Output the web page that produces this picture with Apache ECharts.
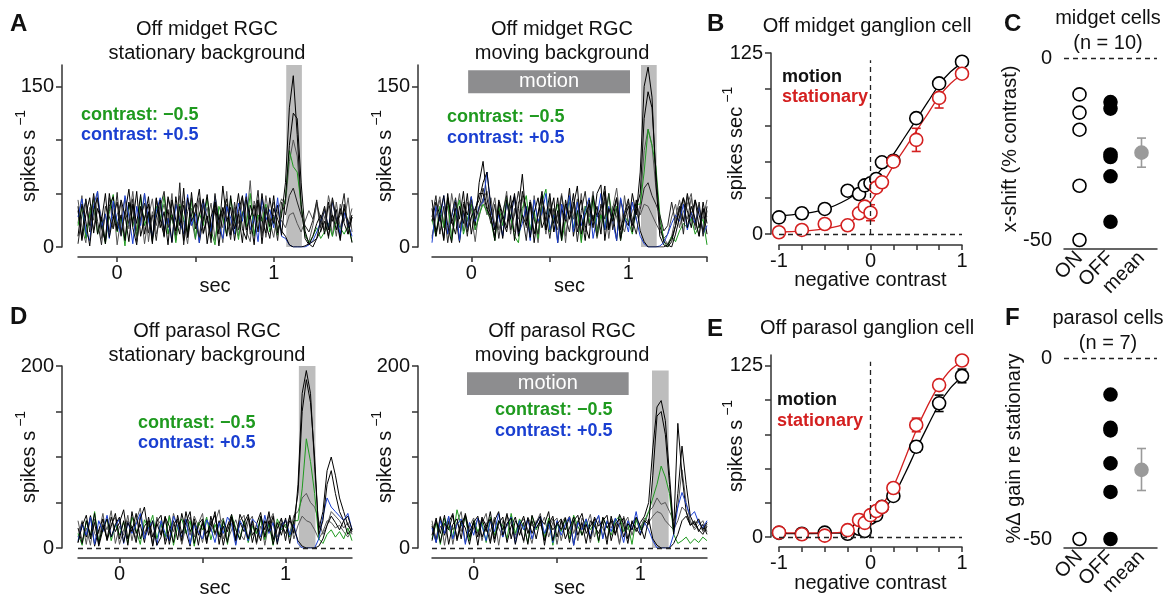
<!DOCTYPE html>
<html>
<head>
<meta charset="utf-8">
<script src="https://cdn.jsdelivr.net/npm/echarts@6/dist/echarts.min.js"></script>
<style>
html, body { margin: 0; background: #fff; }
#chart { width: 1169px; height: 599px; }
</style>
</head>
<body>
<div id="chart"></div>
<script>
// ---------- PSTH traces (spikes/s, 25 ms bins starting at -0.25 s) ----------
// A: Off midget, stationary background
const midStatK1 = [34,8,45,20,50,12,28,3,38,47,15,30,6,42,22,52,10,27,40,5,46,18,33,2,44,25,12,55,9,30,41,4,26,49,16,36,1,32,45,11,24,50,17,7,39,27,44,3,35,19,48,13,29,60,130,160,105,40,8,2,10,22,30,12,42,24,35,8,40,18,30];
const midStatK2 = [10,40,24,1,35,46,18,5,50,27,42,12,31,54,18,2,38,25,47,8,28,44,14,35,4,47,20,39,9,51,17,30,45,3,28,42,12,57,24,37,6,33,48,16,29,2,44,25,13,46,22,39,11,45,95,125,120,60,15,3,0,8,25,38,16,46,26,6,36,24,4];
const midStatK3 = [44,18,4,37,25,52,8,30,14,42,2,28,46,17,38,10,26,50,5,33,20,40,9,45,27,13,48,23,3,36,29,46,12,25,41,6,31,18,52,11,37,22,47,15,5,43,28,16,48,24,9,33,45,40,80,100,85,35,10,5,20,40,27,16,48,30,10,40,24,46,14];
const midStatK4 = [3,30,43,14,48,24,2,38,28,17,51,10,33,22,45,5,27,41,13,30,6,37,52,18,28,11,60,2,33,46,22,9,39,27,4,50,18,36,26,7,42,16,30,47,12,25,53,10,37,22,30,6,42,30,48,55,42,30,20,14,25,44,18,36,8,45,22,30,50,12,28];
const midStatK5 = [22,48,9,33,16,44,28,6,46,17,30,42,8,25,52,15,36,3,28,45,12,27,40,20,50,6,30,43,14,26,7,44,24,37,13,48,28,4,40,20,34,10,45,23,62,12,26,38,9,30,42,16,25,18,30,32,22,14,24,34,26,42,14,28,38,10,42,18,32,22,36];
const midStatK6 = [38,6,30,46,13,36,24,50,9,28,16,44,30,5,40,22,49,12,33,3,45,26,10,47,31,15,38,6,46,24,33,54,13,29,8,42,25,37,10,48,17,31,4,44,27,39,14,50,22,8,36,26,15,10,2,0,0,0,1,3,5,8,15,24,10,30,16,36,22,12,28];
const midStatGreen = [20,38,8,30,45,12,26,3,33,49,14,28,1,41,24,10,47,20,32,6,38,24,48,12,30,4,40,26,14,44,8,32,20,46,16,2,38,27,11,45,26,7,33,19,50,10,30,24,40,14,28,11,33,45,90,75,70,40,12,4,10,18,8,14,22,10,25,18,12,20,5];
const midStatBlue = [28,45,14,6,39,52,18,31,8,43,24,11,48,29,3,38,20,50,25,9,33,46,16,27,5,40,24,12,49,20,31,4,44,26,14,47,21,8,38,27,12,41,24,50,16,29,5,45,25,35,18,46,10,8,2,0,0,0,0,2,6,14,24,34,18,42,26,12,32,22,10];

// A: Off midget, moving background
const midMoveK1 = [24,42,30,8,50,22,36,5,40,30,47,20,60,80,45,28,10,44,30,18,48,6,36,68,24,42,12,30,52,16,30,46,4,36,24,55,10,32,44,20,8,48,28,36,57,16,32,6,45,26,20,50,30,70,150,168,140,60,10,2,0,5,20,38,24,50,30,44,18,36,12];
const midMoveK2 = [36,10,30,48,20,4,42,26,52,14,28,36,44,60,70,38,16,34,8,44,26,50,14,52,36,9,32,46,18,28,50,14,34,6,44,26,38,57,12,30,40,18,50,58,6,36,24,46,16,32,45,14,36,50,120,145,130,70,20,5,2,0,12,28,46,34,18,44,30,14,38];
const midMoveK3 = [8,32,47,20,38,10,28,50,15,42,30,5,36,45,52,30,46,16,30,52,12,36,26,48,18,44,30,4,38,24,42,14,30,50,10,34,26,45,6,38,28,52,16,32,42,8,36,55,24,14,32,42,25,40,90,110,95,55,25,8,3,10,28,44,24,40,50,16,36,26,44];
const midMoveK4 = [28,48,12,38,4,30,46,18,34,10,44,26,36,55,38,22,40,8,32,48,16,30,52,30,6,42,26,12,46,30,8,36,22,48,28,14,42,5,34,52,20,30,10,40,26,50,16,36,6,30,42,26,12,35,55,60,48,40,30,15,20,42,22,38,12,48,28,20,42,10,34];
const midMoveK5 = [44,14,30,6,46,24,12,38,22,50,12,34,50,50,35,28,6,42,26,14,38,47,10,30,20,42,4,32,48,16,36,22,46,10,40,26,50,14,30,6,44,24,38,12,52,18,32,46,8,26,38,20,44,15,5,0,0,0,0,0,2,8,20,34,46,18,38,26,10,42,22];
const midMoveK6 = [10,28,44,22,12,50,28,4,42,24,36,16,28,45,30,46,20,32,10,44,26,14,42,45,34,8,48,22,36,12,46,28,16,38,4,42,30,20,50,14,34,44,8,26,46,16,38,28,12,48,20,34,40,30,40,38,30,22,15,8,12,28,40,18,34,26,46,24,10,36,28];
const midMoveGreen = [26,10,38,18,46,6,30,44,12,26,40,16,30,40,33,25,6,38,20,46,28,10,4,36,48,16,34,8,42,54,14,28,40,6,24,46,18,34,4,38,22,47,10,30,16,50,26,38,6,28,24,12,40,40,70,110,95,75,30,5,0,10,5,15,22,18,27,12,20,26,2];
const midMoveBlue = [4,38,24,48,12,28,44,6,32,18,47,24,38,42,70,35,16,30,10,42,26,48,12,22,38,6,44,24,32,50,16,30,4,40,26,48,14,42,20,34,46,8,28,50,16,38,24,6,46,28,14,42,26,10,3,0,0,0,1,4,12,22,30,24,40,16,32,22,38,12,20];

// D: Off parasol, stationary background
const parStatK1 = [6,28,12,35,2,20,32,8,24,38,10,30,3,40,16,26,6,34,12,29,36,4,20,30,9,38,18,2,32,14,27,5,35,16,30,3,24,37,10,28,18,34,6,26,39,12,30,4,22,33,8,36,16,70,170,195,170,90,20,40,85,100,80,55,40,25,18];
const parStatK2 = [22,5,30,14,38,4,26,10,34,18,28,42,10,24,6,32,45,14,30,3,12,34,24,6,36,16,28,40,5,26,32,9,22,40,4,30,18,34,8,37,26,10,30,6,35,20,40,9,28,14,33,5,30,60,150,185,160,100,15,30,70,85,60,40,30,35,20];
const parStatK3 = [12,30,4,36,16,8,32,20,41,5,24,14,36,8,30,44,12,26,3,34,16,32,8,38,22,5,30,14,35,24,6,32,18,28,42,10,24,34,4,30,36,8,26,16,32,3,28,38,12,24,30,16,36,40,55,60,50,45,30,15,25,40,35,30,22,28,15];
const parStatK4 = [6,24,36,10,28,2,20,32,12,26,34,6,28,18,38,10,24,30,2,27,14,35,4,26,32,8,40,18,28,3,30,16,27,36,12,24,6,34,20,9,28,37,14,22,8,30,18,35,4,27,16,30,22,8,2,0,0,0,2,10,25,35,28,20,30,15,22];
const parStatK5 = [30,8,22,3,32,16,38,9,26,34,4,20,30,24,10,36,16,28,6,32,26,8,36,18,30,4,24,34,12,27,38,5,30,14,26,33,8,20,31,16,9,28,35,4,24,14,36,27,8,31,22,34,10,25,35,30,28,20,10,18,30,28,22,25,18,12,20];
const parStatGreen = [16,3,30,12,40,6,22,32,8,26,14,29,5,34,20,4,31,22,36,10,27,12,35,3,24,32,16,30,2,28,20,34,9,26,14,31,4,36,22,10,30,6,24,16,34,9,27,3,32,20,26,12,30,30,65,120,95,60,10,5,15,20,12,18,10,22,8];
const parStatBlue = [8,26,14,34,4,30,18,36,12,24,32,5,28,16,26,38,10,22,30,3,30,16,8,35,24,12,32,4,27,18,10,31,22,6,28,16,34,26,3,30,22,8,32,27,12,36,16,28,6,24,31,14,26,5,0,0,0,0,10,35,55,45,40,35,30,38,20];

// D: Off parasol, moving background
const parMoveK1 = [24,6,34,14,28,38,8,26,36,12,30,3,32,18,40,10,27,34,6,24,34,14,28,4,36,22,30,8,26,35,12,30,20,34,3,28,38,16,24,32,8,34,22,30,14,37,26,5,30,18,28,35,50,110,155,162,140,80,20,137,80,40,25,30,18,26,15];
const parMoveK2 = [8,30,16,36,4,26,32,10,38,18,28,12,34,24,5,30,40,14,27,33,4,24,35,16,30,10,32,26,40,8,28,20,33,6,30,36,14,26,10,34,24,30,4,35,16,27,33,10,28,22,14,30,26,80,145,150,125,70,15,60,112,70,35,25,32,20,28];
const parMoveK3 = [26,10,35,3,30,20,28,40,6,24,33,16,27,38,8,32,22,12,36,26,14,30,6,34,24,28,38,10,22,32,4,27,34,16,30,8,33,24,37,12,30,22,10,32,27,4,35,20,28,33,16,26,40,45,55,48,50,40,30,45,86,50,30,20,25,30,18];
const parMoveK4 = [14,33,6,27,20,36,10,30,22,4,28,35,12,24,32,6,30,20,38,10,30,22,8,33,16,27,35,3,30,20,26,32,10,22,34,14,28,5,30,24,16,30,36,8,26,32,12,27,20,34,24,10,32,10,3,0,0,0,5,15,30,35,25,28,20,15,24];
const parMoveK5 = [30,8,24,16,34,4,28,18,36,10,22,32,8,28,18,34,3,30,24,35,10,26,32,20,5,30,24,34,12,28,33,8,26,35,16,30,22,32,6,27,35,12,28,22,32,5,26,34,14,30,22,33,28,35,40,38,30,25,20,30,45,40,28,22,30,18,26];
const parMoveGreen = [10,28,4,33,22,12,42,24,35,8,30,18,28,6,34,14,30,24,10,38,16,32,24,6,35,20,30,12,33,3,26,18,32,10,36,24,14,30,20,28,6,33,24,14,30,35,18,26,4,32,20,30,40,55,70,90,78,60,15,5,8,12,5,10,6,12,8];
const parMoveBlue = [22,6,30,16,35,10,26,32,4,28,14,33,24,8,30,18,38,12,26,34,5,30,20,32,10,26,35,16,28,6,30,14,26,34,3,28,20,32,12,26,36,10,30,18,33,24,6,30,20,40,16,28,20,8,0,0,0,0,15,45,61,48,35,40,28,22,30];

// ---------- contrast-response (B, E) ----------
const contrastLevels = [-1,-0.75,-0.5,-0.25,-0.125,-0.0625,0,0.0625,0.125,0.25,0.5,0.75,1];
const midMotion = [11.5,14.3,17.3,29.9,27.6,33.6,35,38,49.5,50.6,80,104,119];
const midMotionErr = [1.5,3.5,2,2,1.5,2,2,2,2,3.5,2.5,3,3];
const midStat = [1.2,2.8,6.9,6,14.3,18.9,14.7,32,35.7,50,65,94,110.7];
const midStatErr = [1,1.5,3,1.5,2,2,5.5,3,2,3,8,7,3];
const parMotion = [3,2.4,3.2,2.4,6,4.4,14,16,22,30,66,97.7,117.7];
const parMotionErr = [1,1,1,1,1.5,1.5,3,2,2,3,4,6,5];
const parStat = [3.2,2,1,5,12.4,10.3,16,19,21.9,35.8,81.9,111,129];
const parStatErr = [1,1,1,1,4,2,3,3,3,3,5,2,3];

// fitted curves
const fitX = [-1,-0.75,-0.5,-0.25,-0.125,0,0.125,0.25,0.375,0.5,0.625,0.75,0.875,1];
const midMotionFit = [12.5,14,17,24,30,37,45,55,67,79,91,103,112,118];
const midStatFit = [1.5,2,3.5,7.5,13,22,34,47,59,71,83,95,104,110];
const parMotionFit = [2.5,2.5,2.7,3.2,5.5,11,18,30,46,64,81,97,109,117];
const parStatFit = [3,3,3,4,8,14,23,37,57,78,96,111,122,128];

// ---------- population summaries (C, F) ----------
const groups = ['ON', 'OFF', 'mean'];
const midShiftOn = [-10,-15,-19.7,-35.1,-50];
const midShiftOff = [-12.1,-13.9,-26.5,-27.2,-32.5,-45];
const midShiftMean = -26, midShiftLo = -30, midShiftHi = -22;
const parGainOn = [-50];
const parGainOff = [-10.1,-19.3,-20,-29.1,-37,-50];
const parGainMean = -30.9, parGainLo = -36.6, parGainHi = -25;

// ---------- helpers ----------
const FONT = '"Liberation Sans", Arial, Helvetica, sans-serif';
const INK = '#111', AX = '#333';
const GREEN = '#1f9a1f', BLUE = '#1a3fd1', RED = '#d42020';
const T0 = -0.25, DT = 0.025;

function trace(arr) { return arr.map((v, i) => [+(T0 + i * DT).toFixed(3), v]); }

function psth(g, arr, color) {
  return { type: 'line', xAxisIndex: g, yAxisIndex: g, data: trace(arr), symbol: 'none', showSymbol: false,
    lineStyle: { width: 1, color: color }, itemStyle: { color: color }, z: 3, silent: true };
}

function xAx(g, min, max, ticks, labels, name, gap, offset) {
  return { gridIndex: g, type: 'value', min: min, max: max, offset: offset,
    name: name, nameLocation: 'middle', nameGap: gap, nameMoveOverlap: false,
    nameTextStyle: { fontSize: 20, color: INK, fontFamily: FONT },
    axisLine: { onZero: false, lineStyle: { color: AX, width: 1.5 } },
    axisTick: { customValues: ticks, length: 5, lineStyle: { color: AX, width: 1.5 } },
    axisLabel: { customValues: labels, fontSize: 20, color: INK, fontFamily: FONT, margin: 6 },
    splitLine: { show: false } };
}

function yAx(g, min, max, ticks, labels, name, gap, offset) {
  return { gridIndex: g, type: 'value', min: min, max: max, offset: offset,
    name: name, nameLocation: 'middle', nameGap: gap, nameRotate: 90, nameMoveOverlap: false,
    nameTextStyle: { fontSize: 20, color: INK, fontFamily: FONT,
      rich: { sup: { fontSize: 14, color: INK, fontFamily: FONT, verticalAlign: 'top', padding: [0, 0, 16, 4] } } },
    axisLine: { onZero: false, lineStyle: { color: AX, width: 1.5 } },
    axisTick: { customValues: ticks, length: 6, lineStyle: { color: AX, width: 1.5 } },
    axisLabel: { customValues: labels, fontSize: 20, color: INK, fontFamily: FONT, margin: 8 },
    splitLine: { show: false } };
}

function catAx(g, offset) {
  return { gridIndex: g, type: 'category', data: groups, offset: offset,
    axisLine: { onZero: false, lineStyle: { color: AX, width: 1.5 } },
    axisTick: { alignWithLabel: true, length: 5, lineStyle: { color: AX, width: 1.5 } },
    axisLabel: { interval: 0, hideOverlap: false, rotate: 45, fontSize: 20, color: INK, fontFamily: FONT, margin: 6 },
    splitLine: { show: false } };
}

function errBar(params, api) {
  const x = api.value(0), lo = api.value(1), hi = api.value(2);
  const a = api.coord([x, lo]), b = api.coord([x, hi]);
  const c = api.visual('color'), w = 4.5;
  const st = () => ({ stroke: c, lineWidth: 1.6 });
  return { type: 'group', children: [
    { type: 'line', shape: { x1: a[0], y1: a[1], x2: b[0], y2: b[1] }, style: st() },
    { type: 'line', shape: { x1: a[0] - w, y1: a[1], x2: a[0] + w, y2: a[1] }, style: st() },
    { type: 'line', shape: { x1: b[0] - w, y1: b[1], x2: b[0] + w, y2: b[1] }, style: st() }
  ] };
}

function errSeries(g, xs, ys, es, color) {
  return { type: 'custom', xAxisIndex: g, yAxisIndex: g, renderItem: errBar, z: 3, silent: true,
    itemStyle: { color: color }, data: xs.map((x, i) => [x, ys[i] - es[i], ys[i] + es[i]]) };
}

function pts(g, xs, ys, color, fill) {
  return { type: 'scatter', xAxisIndex: g, yAxisIndex: g, symbol: 'circle', symbolSize: 13, z: 4, silent: true,
    itemStyle: { color: fill, borderColor: color, borderWidth: 1.6, opacity: 1 },
    data: xs.map((x, i) => [x, ys[i]]) };
}

function fit(g, ys, color) {
  return { type: 'line', xAxisIndex: g, yAxisIndex: g, smooth: 0.4, symbol: 'none', showSymbol: false, z: 2, silent: true,
    lineStyle: { width: 1.3, color: color }, data: fitX.map((x, i) => [x, ys[i]]) };
}

function area(g, x0, y0, x1, y1, color, label) {
  return { type: 'line', xAxisIndex: g, yAxisIndex: g, data: [], z: 1, silent: true,
    markArea: { silent: true, itemStyle: { color: color },
      label: { show: !!label, position: 'inside', color: '#fff', fontSize: 20, fontFamily: FONT },
      data: [[{ name: label || '', coord: [x0, y0] }, { coord: [x1, y1] }]] } };
}

function dashed(g, segs) {
  return { type: 'line', xAxisIndex: g, yAxisIndex: g, data: [], z: 2, silent: true,
    markLine: { silent: true, symbol: 'none', label: { show: false },
      lineStyle: { type: [5, 4], color: '#222', width: 1.3 },
      data: segs } };
}

function txt(x, y, text, o) {
  o = o || {};
  return { type: 'text', x: x, y: y, silent: true, z: 10,
    style: { text: text, fill: o.color || INK, fontSize: o.size || 20, fontFamily: FONT,
      fontWeight: o.bold ? 'bold' : 'normal', align: o.align || 'left', verticalAlign: 'top',
      lineHeight: o.lh || (o.size || 20) * 1.2 } };
}

const SPK = 'spikes s{sup|−1}';
const psthTicks = [0, 0.5, 1, 1.5];
const crTicks = [-1, -0.75, -0.5, -0.25, 0, 0.25, 0.5, 0.75, 1];
const popTicks = [-50, -40, -30, -20, -10, 0];

const option = {
  animation: false,
  backgroundColor: '#fff',
  grid: [
    { left: 78, top: 65, width: 274, height: 182 },
    { left: 432, top: 65, width: 275, height: 182 },
    { left: 779, top: 53, width: 183, height: 181 },
    { left: 1064, top: 58, width: 93, height: 182 },
    { left: 78, top: 366, width: 274, height: 182 },
    { left: 432, top: 366, width: 275, height: 182 },
    { left: 779, top: 355, width: 183, height: 182 },
    { left: 1064, top: 358, width: 93, height: 181 }
  ],
  xAxis: [
    xAx(0, -0.25, 1.5, psthTicks, [0, 1], 'sec', 19, 10),
    xAx(1, -0.25, 1.5, psthTicks, [0, 1], 'sec', 19, 10),
    xAx(2, -1, 1, crTicks, [-1, 0, 1], 'negative contrast', 25, 11),
    catAx(3, 9),
    xAx(4, -0.25, 1.4, [0, 0.5, 1], [0, 1], 'sec', 20, 10),
    xAx(5, -0.25, 1.4, [0, 0.5, 1], [0, 1], 'sec', 20, 10),
    xAx(6, -1, 1, crTicks, [-1, 0, 1], 'negative contrast', 26, 10),
    catAx(7, 9)
  ],
  yAxis: [
    yAx(0, 0, 170, [0, 50, 100, 150], [0, 150], SPK, 18, 16),
    yAx(1, 0, 170, [0, 50, 100, 150], [0, 150], SPK, 18, 14),
    yAx(2, 0, 125, [0, 25, 50, 75, 100, 125], [0, 125], 'spikes sec{sup|−1}', 20, 8),
    yAx(3, -50, 0, popTicks, [-50, 0], 'x-shift (% contrast)', 40, 4),
    yAx(4, 0, 200, [0, 50, 100, 150, 200], [0, 200], SPK, 18, 16),
    yAx(5, 0, 200, [0, 50, 100, 150, 200], [0, 200], SPK, 18, 14),
    yAx(6, 0, 133, [0, 25, 50, 75, 100, 125], [0, 125], SPK, 20, 8),
    yAx(7, -50, 0, popTicks, [-50, 0], '%Δ gain re stationary', 36, 4)
  ],
  series: [
    // A left
    area(0, 1.08, 0, 1.18, 170, '#bdbdbd'),
    psth(0, midStatK3, '#555'), psth(0, midStatK5, '#555'), psth(0, midStatGreen, GREEN),
    psth(0, midStatK1, '#000'), psth(0, midStatBlue, BLUE), psth(0, midStatK2, '#000'),
    psth(0, midStatK4, '#222'), psth(0, midStatK6, '#000'),
    // A right
    area(1, 1.08, 0, 1.18, 170, '#bdbdbd'),
    area(1, -0.02, 143.5, 1.01, 165, '#8d8d8f', 'motion'),
    psth(1, midMoveK3, '#555'), psth(1, midMoveK6, '#555'), psth(1, midMoveGreen, GREEN),
    psth(1, midMoveK1, '#000'), psth(1, midMoveBlue, BLUE), psth(1, midMoveK2, '#000'),
    psth(1, midMoveK4, '#222'), psth(1, midMoveK5, '#000'),
    // B
    dashed(2, [[{ coord: [-1, 0] }, { coord: [1, 0] }], [{ coord: [0, 0] }, { coord: [0, 120] }]]),
    fit(2, midMotionFit, '#000'), fit(2, midStatFit, RED),
    errSeries(2, contrastLevels, midMotion, midMotionErr, '#000'),
    errSeries(2, contrastLevels, midStat, midStatErr, RED),
    pts(2, contrastLevels, midMotion, '#000', '#fff'),
    pts(2, contrastLevels, midStat, RED, '#fff'),
    // C
    dashed(3, [{ yAxis: 0 }]),
    pts(3, midShiftOn.map(() => 'ON'), midShiftOn, '#000', '#fff'),
    pts(3, midShiftOff.map(() => 'OFF'), midShiftOff, '#000', '#000'),
    { type: 'custom', xAxisIndex: 3, yAxisIndex: 3, renderItem: errBar, z: 3, silent: true,
      itemStyle: { color: '#9a9a9a' }, data: [['mean', midShiftLo, midShiftHi]] },
    pts(3, ['mean'], [midShiftMean], '#9a9a9a', '#9a9a9a'),
    // D left
    area(4, 1.08, 0, 1.18, 200, '#bdbdbd'),
    dashed(4, [{ yAxis: 0 }]),
    psth(4, parStatK3, '#555'), psth(4, parStatK5, '#555'), psth(4, parStatGreen, GREEN),
    psth(4, parStatK1, '#000'), psth(4, parStatBlue, BLUE), psth(4, parStatK2, '#000'),
    psth(4, parStatK4, '#000'),
    // D right
    area(5, 1.07, 0, 1.17, 195, '#bdbdbd'),
    area(5, -0.04, 168, 0.93, 193, '#8d8d8f', 'motion'),
    dashed(5, [{ yAxis: 0 }]),
    psth(5, parMoveK3, '#555'), psth(5, parMoveK5, '#555'), psth(5, parMoveGreen, GREEN),
    psth(5, parMoveK1, '#000'), psth(5, parMoveBlue, BLUE), psth(5, parMoveK2, '#000'),
    psth(5, parMoveK4, '#000'),
    // E
    dashed(6, [[{ coord: [-1, 0] }, { coord: [1, 0] }], [{ coord: [0, 0] }, { coord: [0, 128] }]]),
    fit(6, parMotionFit, '#000'), fit(6, parStatFit, RED),
    errSeries(6, contrastLevels, parMotion, parMotionErr, '#000'),
    errSeries(6, contrastLevels, parStat, parStatErr, RED),
    pts(6, contrastLevels, parMotion, '#000', '#fff'),
    pts(6, contrastLevels, parStat, RED, '#fff'),
    // F
    dashed(7, [{ yAxis: 0 }]),
    pts(7, parGainOn.map(() => 'ON'), parGainOn, '#000', '#fff'),
    pts(7, parGainOff.map(() => 'OFF'), parGainOff, '#000', '#000'),
    { type: 'custom', xAxisIndex: 7, yAxisIndex: 7, renderItem: errBar, z: 3, silent: true,
      itemStyle: { color: '#9a9a9a' }, data: [['mean', parGainLo, parGainHi]] },
    pts(7, ['mean'], [parGainMean], '#9a9a9a', '#9a9a9a')
  ],
  graphic: [
    txt(10, 10, 'A', { size: 24, bold: true }),
    txt(207, 17, 'Off midget RGC\nstationary background', { align: 'center', lh: 24 }),
    txt(562, 17, 'Off midget RGC\nmoving background', { align: 'center', lh: 24 }),
    txt(81, 104, 'contrast: −0.5', { size: 18, bold: true, color: GREEN }),
    txt(81, 124, 'contrast: +0.5', { size: 18, bold: true, color: BLUE }),
    txt(447, 106, 'contrast: −0.5', { size: 18, bold: true, color: GREEN }),
    txt(447, 127, 'contrast: +0.5', { size: 18, bold: true, color: BLUE }),
    txt(707, 10, 'B', { size: 24, bold: true }),
    txt(867, 14, 'Off midget ganglion cell', { align: 'center', lh: 24 }),
    txt(782, 66, 'motion', { size: 18, bold: true }),
    txt(782, 86, 'stationary', { size: 18, bold: true, color: RED }),
    txt(1004, 10, 'C', { size: 24, bold: true }),
    txt(1108, 6, 'midget cells\n(n = 10)', { align: 'center', lh: 25 }),
    txt(10, 303, 'D', { size: 24, bold: true }),
    txt(207, 319, 'Off parasol RGC\nstationary background', { align: 'center', lh: 24 }),
    txt(562, 319, 'Off parasol RGC\nmoving background', { align: 'center', lh: 24 }),
    txt(138, 412, 'contrast: −0.5', { size: 18, bold: true, color: GREEN }),
    txt(138, 432, 'contrast: +0.5', { size: 18, bold: true, color: BLUE }),
    txt(495, 399, 'contrast: −0.5', { size: 18, bold: true, color: GREEN }),
    txt(495, 420, 'contrast: +0.5', { size: 18, bold: true, color: BLUE }),
    txt(707, 315, 'E', { size: 24, bold: true }),
    txt(867, 316, 'Off parasol ganglion cell', { align: 'center', lh: 24 }),
    txt(777, 389, 'motion', { size: 18, bold: true }),
    txt(777, 410, 'stationary', { size: 18, bold: true, color: RED }),
    txt(1005, 304, 'F', { size: 24, bold: true }),
    txt(1108, 306, 'parasol cells\n(n = 7)', { align: 'center', lh: 25 })
  ]
};

const chart = echarts.init(document.getElementById('chart'));
chart.setOption(option);
</script>
</body>
</html>
